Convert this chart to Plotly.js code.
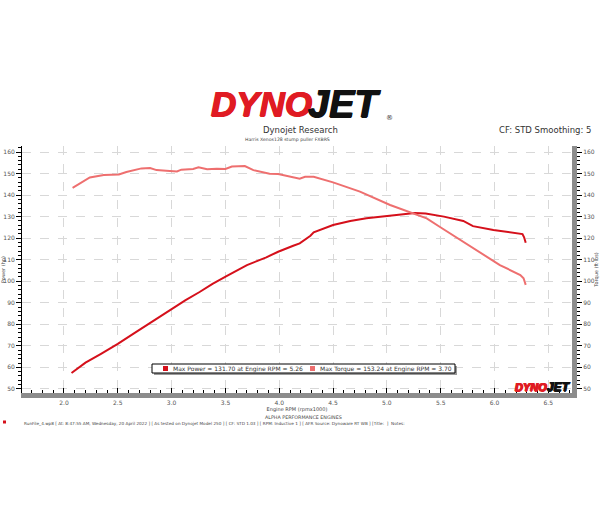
<!DOCTYPE html>
<html><head><meta charset="utf-8">
<script src="https://cdn.plot.ly/plotly-3.0.1.min.js"></script>
<style>html,body{margin:0;padding:0;background:#fff}#chart{width:600px;height:523px}</style>
</head><body><div id="chart"></div>
<script>
// ---- data ----
const powerRpm = [2.07,2.20,2.34,2.50,2.65,2.80,3.00,3.13,3.26,3.38,3.51,3.62,3.70,3.88,3.99,4.13,4.19,4.29,4.32,4.50,4.66,4.81,4.97,5.12,5.26,5.36,5.53,5.71,5.80,5.99,6.18,6.26,6.275,6.29];
const powerHp  = [57.4,62.2,66.2,70.9,75.8,80.6,87.1,91.2,95.0,98.8,102.4,105.5,107.5,111.1,113.7,116.5,117.6,121.1,122.7,126.1,128.0,129.2,130.0,131.1,131.7,131.5,130.0,128.0,125.6,123.8,122.5,121.9,120.4,117.9];
const torqueRpm = [2.08,2.24,2.37,2.51,2.58,2.72,2.80,2.86,2.95,3.05,3.09,3.20,3.25,3.33,3.42,3.50,3.56,3.68,3.76,3.91,3.99,4.10,4.19,4.24,4.32,4.50,4.75,5.03,5.25,5.37,5.49,5.74,5.90,6.05,6.24,6.27,6.29];
const torqueFtLbs = [143.4,148.2,149.3,149.6,150.7,152.4,152.6,151.6,151.3,151.0,151.8,152.1,152.9,152.0,152.2,152.1,153.3,153.5,151.6,149.9,149.8,148.5,147.6,148.5,148.5,145.9,141.6,135.4,131.5,129.2,125.3,117.3,112.0,107.5,102.9,101.4,98.3];
const xTickVals = [2.0,2.5,3.0,3.5,4.0,4.5,5.0,5.5,6.0,6.5];
const yTickVals = [50,60,70,80,90,100,110,120,130,140,150,160];
const legendPower = "Max Power = 131.70 at Engine RPM = 5.26";
const legendTorque = "Max Torque = 153.24 at Engine RPM = 3.70";
const runInfo = "RunFile_4.wp8 [ At: 8:47:55 AM, Wednesday, 20 April 2022 ] [ As tested on Dynojet Model 250 ] [ CF: STD 1.03 ] [ RPM: Inductive 1 ] [ AFR Source: Dynoware RT WB ] [Title:  ]  Notes:";

// ---- geometry helpers (plot area in pixels) ----
const L = 22, R = 572, T = 146, B = 393;
const px = x => (x - L) / (R - L);
const py = y => (B - y) / (B - T);

const POWER = '#d5101b', TORQUE = '#ee6f6f';
const FONT = 'DejaVu Sans';
const LOGO = 'Liberation Sans';

const traces = [
  {x: powerRpm, y: powerHp, type: 'scatter', mode: 'lines', name: 'Power',
   line: {color: POWER, width: 2}, xaxis: 'x', yaxis: 'y'},
  {x: torqueRpm, y: torqueFtLbs, type: 'scatter', mode: 'lines', name: 'Torque',
   line: {color: TORQUE, width: 2}, xaxis: 'x', yaxis: 'y2'}
];

const tickFont = {family: FONT, size: 6, color: '#555'};
const yCommon = {
  range: [48.1, 162.8], tickvals: yTickVals, tickfont: tickFont,
  showgrid: true, gridcolor: '#d8d8d8', griddash: 'dash', gridwidth: 1,
  zeroline: false, showline: true, ticklen: 5, tickcolor: '#000',
  minor: {dtick: 2, ticklen: 3, tickcolor: '#000', showgrid: false}
};

function logoFont(size, color) {
  return {family: LOGO, size: size, color: color, weight: 'bold', style: 'italic',
          shadow: '0.7px 0 0 ' + color + ', -0.7px 0 0 ' + color + ', 0 0.5px 0 ' + color};
}

const layout = {
  width: 600, height: 523,
  margin: {l: L, r: 600 - R, t: T, b: 523 - B, pad: 0},
  paper_bgcolor: '#fff', plot_bgcolor: '#fff',
  showlegend: false,
  font: {family: FONT},
  xaxis: {
    range: [1.61, 6.72], tickvals: xTickVals, tickformat: '.1f', tickfont: tickFont,
    showgrid: true, gridcolor: '#d8d8d8', griddash: 'dash', gridwidth: 1,
    zeroline: false, showline: true, linecolor: '#8c8c8c', linewidth: 5,
    ticks: 'inside', ticklen: 5, tickcolor: '#000',
    minor: {dtick: 0.1, ticks: 'inside', ticklen: 3, tickcolor: '#000', showgrid: false},
    title: {text: 'Engine RPM (rpmx1000)', font: {family: FONT, size: 5, color: '#444'}, standoff: 2}
  },
  yaxis: Object.assign({}, yCommon, {
    linecolor: '#000', linewidth: 1, ticks: 'outside',
    title: {text: 'Power (hp)', font: {family: FONT, size: 5, color: '#444'}, standoff: 3}
  }),
  yaxis2: Object.assign({}, yCommon, {
    overlaying: 'y', side: 'right', showgrid: false,
    linecolor: '#8c8c8c', linewidth: 5, ticks: 'outside',
    title: {text: 'Torque (ft·lbs)', font: {family: FONT, size: 5, color: '#444'}, standoff: 3}
  }),
  shapes: [
    {type: 'rect', xref: 'paper', yref: 'paper', x0: px(154), x1: px(457), y0: py(375), y1: py(366),
     fillcolor: '#9a9a9a', line: {width: 0}},
    {type: 'rect', xref: 'paper', yref: 'paper', x0: px(152), x1: px(455), y0: py(373), y1: py(364),
     fillcolor: '#fff', line: {color: '#000', width: 1}},
    {type: 'rect', xref: 'paper', yref: 'paper', x0: px(163), x1: px(168), y0: py(371), y1: py(366),
     fillcolor: POWER, line: {width: 0}},
    {type: 'rect', xref: 'paper', yref: 'paper', x0: px(310), x1: px(315), y0: py(371), y1: py(366),
     fillcolor: TORQUE, line: {width: 0}},
    {type: 'rect', xref: 'paper', yref: 'paper', x0: px(3), x1: px(6), y0: py(423.5), y1: py(420.5),
     fillcolor: POWER, line: {width: 0}}
  ],
  annotations: [
    // big logo
    {xref: 'paper', yref: 'paper', x: px(313), y: py(104), xanchor: 'right', yanchor: 'middle', showarrow: false,
     borderpad: 0, text: 'DYNO', font: logoFont(35, '#e01b23')},
    {xref: 'paper', yref: 'paper', x: px(307), y: py(104), xanchor: 'left', yanchor: 'middle', showarrow: false,
     borderpad: 0, text: 'JET', font: logoFont(38, '#111')},
    {xref: 'paper', yref: 'paper', x: px(384), y: py(118), xanchor: 'left', yanchor: 'middle', showarrow: false,
     text: '®', font: {family: FONT, size: 7, color: '#333'}},
    {xref: 'paper', yref: 'paper', x: px(300), y: py(130), xanchor: 'center', yanchor: 'middle', showarrow: false,
     text: 'Dynojet Research', font: {family: FONT, size: 8.5, color: '#333'}},
    {xref: 'paper', yref: 'paper', x: px(287), y: py(139), xanchor: 'center', yanchor: 'middle', showarrow: false,
     text: 'Harris Xenos128 stump puller FXBRS', font: {family: FONT, size: 4.6, color: '#444'}},
    {xref: 'paper', yref: 'paper', x: px(593), y: py(130), xanchor: 'right', yanchor: 'middle', showarrow: false,
     text: 'CF: STD Smoothing: 5', font: {family: FONT, size: 8.5, color: '#333'}},
    // legend texts
    {xref: 'paper', yref: 'paper', x: px(171), y: py(368.5), xanchor: 'left', yanchor: 'middle', showarrow: false,
     text: legendPower, font: {family: FONT, size: 6, color: '#333'}},
    {xref: 'paper', yref: 'paper', x: px(318), y: py(368.5), xanchor: 'left', yanchor: 'middle', showarrow: false,
     text: legendTorque, font: {family: FONT, size: 6, color: '#333'}},
    // small logo in plot corner
    {xref: 'paper', yref: 'paper', x: px(548), y: py(386.5), xanchor: 'right', yanchor: 'middle', showarrow: false,
     borderpad: 0, text: 'DYNO', font: logoFont(11, '#e01b23')},
    {xref: 'paper', yref: 'paper', x: px(546), y: py(386.5), xanchor: 'left', yanchor: 'middle', showarrow: false,
     borderpad: 0, text: 'JET', font: logoFont(12, '#111')},
    // footer
    {xref: 'paper', yref: 'paper', x: px(303), y: py(417), xanchor: 'center', yanchor: 'middle', showarrow: false,
     text: 'ALPHA PERFORMANCE ENGINES', font: {family: FONT, size: 4.8, color: '#444'}},
    {xref: 'paper', yref: 'paper', x: px(22), y: py(423), xanchor: 'left', yanchor: 'middle', showarrow: false,
     text: runInfo, font: {family: FONT, size: 4.2, color: '#444'}}
  ]
};

Plotly.newPlot('chart', traces, layout, {staticPlot: true, displayModeBar: false});
</script>
</body></html>
